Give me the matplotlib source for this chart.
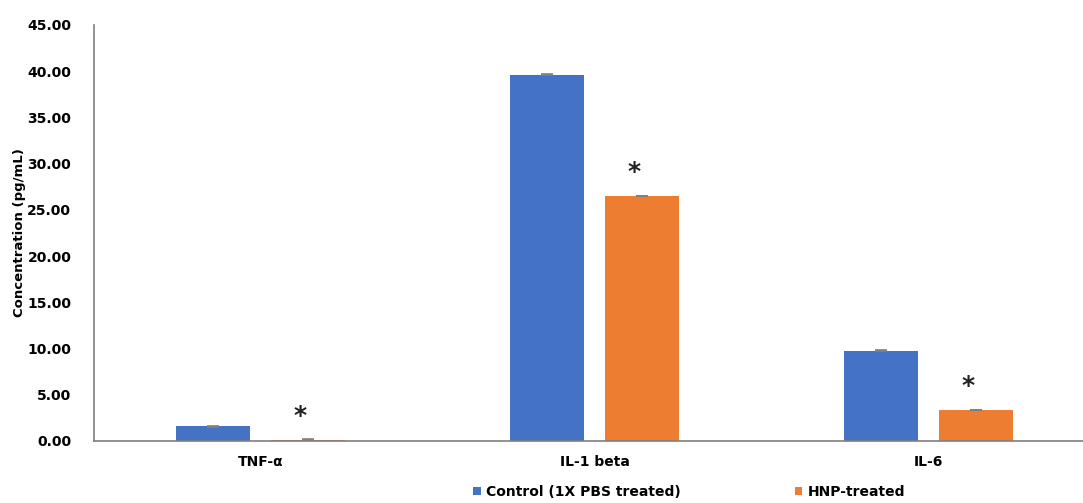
import matplotlib.pyplot as plt
import numpy as np

categories = ["TNF-α", "IL-1 beta", "IL-6"]
control = [1.60, 39.60, 9.75]
hnp = [0.15, 26.50, 3.35]
control_err = [0.05, 0.05, 0.05]
hnp_err = [0.05, 0.05, 0.05]
series_names = ["Control (1X PBS treated)", "HNP-treated"]
yticks = [0, 5, 10, 15, 20, 25, 30, 35, 40, 45]

plt.rcParams['font.family'] = ['DejaVu Sans']

fig = plt.figure(figsize=(10.83, 5.03), dpi=100)
ax = fig.add_axes([93.5 / 1083, 1 - 441 / 503, 1002 / 1083, 416 / 503])

x = np.arange(len(categories))
w = 0.223
off = 0.142
blue = "#4472C4"
orange = "#ED7D31"
ekw = dict(ecolor="#7f7f7f", capsize=4, elinewidth=1, capthick=1.2)
b1 = ax.bar(x - off, control, w, color=blue, label=series_names[0], yerr=control_err, error_kw=ekw)
b2 = ax.bar(x + off, hnp, w, color=orange, label=series_names[1], yerr=hnp_err, error_kw=ekw)

# significance markers over the treated bars
for xi, v in zip(x, hnp):
    ax.text(xi + off - 0.025, v + 2.6, "*", ha="center", va="center",
            fontsize=18, fontweight="bold", color="#222222")

ax.set_xlim(-0.5, 2.5)
ax.set_ylim(0, 45)
ax.set_yticks(yticks)
ax.set_yticklabels([f"{t:.2f}" for t in yticks], fontsize=10, fontweight="bold")
ax.set_xticks(x)
ax.set_xticklabels(categories, fontsize=10, fontweight="bold")
ax.tick_params(axis="x", length=0, pad=10)
ax.tick_params(axis="y", length=0, pad=16)
ax.set_ylabel("Concentration (pg/mL)", fontsize=9.5, fontweight="bold", labelpad=1)

for s in ["top", "right"]:
    ax.spines[s].set_visible(False)
for s in ["left", "bottom"]:
    ax.spines[s].set_color("#7f7f7f")
    ax.spines[s].set_linewidth(1.2)

fig.legend(handles=[b1, b2], labels=series_names, loc="center left",
           bbox_to_anchor=(466 / 1083, 1 - 492 / 503), ncol=2, frameon=False,
           prop=dict(size=10, weight="bold"), handlelength=0.55, handleheight=0.55,
           handletextpad=0.4, columnspacing=8.2, borderpad=0)

fig.savefig("out.png", dpi=100)
